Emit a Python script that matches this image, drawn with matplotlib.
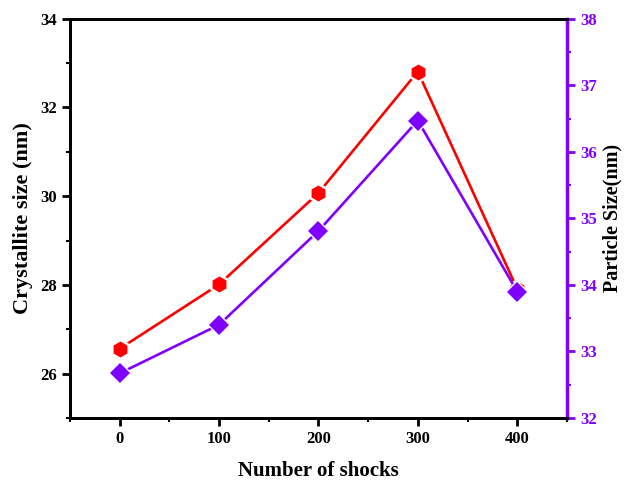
import matplotlib
matplotlib.use("Agg")
import matplotlib.pyplot as plt
from matplotlib.ticker import MultipleLocator

shocks = [0, 100, 200, 300, 400]
crystallite = [26.56, 28.01, 30.07, 32.81, 27.91]
particle = [32.67, 33.40, 34.81, 36.47, 33.90]

red = "#ff0000"
purple = "#8000ff"

plt.rcParams['font.family'] = ['Liberation Serif', 'DejaVu Serif']
plt.rcParams['font.weight'] = 'bold'

fig = plt.figure(figsize=(6.25, 4.82), dpi=100)
ax = fig.add_axes([0.112, 0.133, 0.795, 0.828])
ax2 = ax.twinx()
ax.set_zorder(2)
ax.patch.set_visible(False)
ax2.set_zorder(3)
ax2.patch.set_visible(False)

# crystallite (left axis)
ax.plot(shocks, crystallite, color=red, lw=1.9, zorder=3)
ax.plot(shocks, crystallite, ls='none', marker='h', ms=15.5, color='white', mew=0, zorder=4)
ax.plot(shocks, crystallite, ls='none', marker='h', ms=11.5, color=red, mew=0, zorder=5)

# particle size (right axis)
ax2.plot(shocks, particle, color=purple, lw=1.9, zorder=3)
ax2.plot(shocks, particle, ls='none', marker='D', ms=12.5, color='white', mew=0, zorder=4)
ax2.plot(shocks, particle, ls='none', marker='D', ms=10, color=purple, mew=0, zorder=5)

ax.set_xlim(-50, 450)
ax.set_ylim(25, 34)
ax2.set_ylim(32, 38)

ax.xaxis.set_major_locator(MultipleLocator(100))
ax.xaxis.set_minor_locator(MultipleLocator(50))
ax.yaxis.set_major_locator(MultipleLocator(2))
ax.yaxis.set_minor_locator(MultipleLocator(1))
ax2.yaxis.set_major_locator(MultipleLocator(1))
ax2.yaxis.set_minor_locator(MultipleLocator(0.5))

for a in (ax, ax2):
    for s in a.spines.values():
        s.set_linewidth(2)
ax2.spines['right'].set_color(purple)
ax2.spines['right'].set_linewidth(2.5)

ax.tick_params(axis='both', which='major', direction='out', length=6, width=2, labelsize=12)
ax.tick_params(axis='both', which='minor', direction='out', length=3, width=1.5)
ax2.tick_params(axis='y', which='major', direction='out', length=6, width=2, labelsize=12,
                colors=purple)
ax2.tick_params(axis='y', which='minor', direction='out', length=3, width=1.5, colors=purple)

for lab in ax.get_xticklabels() + ax.get_yticklabels() + ax2.get_yticklabels():
    lab.set_fontweight('bold')

ax.set_xlabel("Number of shocks", fontsize=15, fontweight='bold', labelpad=10)
ax.set_ylabel("Crystallite size (nm)", fontsize=16, fontweight='bold', labelpad=5)
ax2.set_ylabel("Particle Size(nm)", fontsize=14.5, fontweight='bold', labelpad=4)

fig.savefig("out.png", dpi=100)
